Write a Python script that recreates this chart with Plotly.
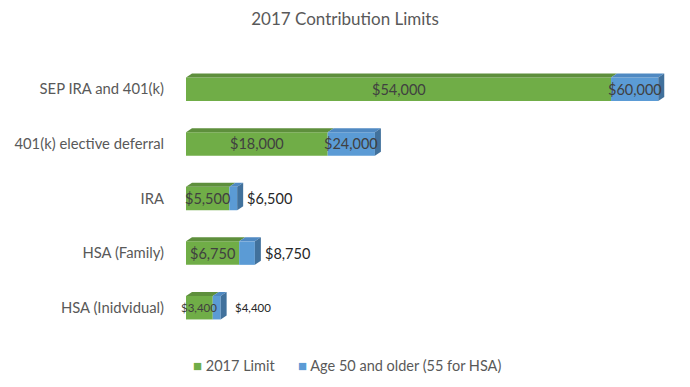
import plotly.graph_objects as go

categories = ["SEP IRA and 401(k)", "401(k) elective deferral", "IRA", "HSA (Family)", "HSA (Inidvidual)"]
limit_2017 = [54000, 18000, 5500, 6750, 3400]
catch_up = [6000, 6000, 1000, 2000, 1000]
limit_labels = ["$54,000", "$18,000", "$5,500", "$6,750", "$3,400"]
total_labels = ["$60,000", "$24,000", "$6,500", "$8,750", "$4,400"]
small_label = [False, False, False, False, True]
series_names = ["2017 Limit", "Age 50 and older (55 for HSA)"]

GREEN, GREEN_TOP = "#70AD47", "#5E8F3C"
BLUE, BLUE_TOP, BLUE_SIDE = "#5B9BD5", "#4F89C2", "#41719C"
FONT = "Lato, Open Sans, sans-serif"

W, H = 690, 387
ML, MR, MT, MB = 186, 16, 62, 52
XMAX = 62000
BAR_W = 0.43
px_per_x = (W - ML - MR) / XMAX
px_per_y = (H - MT - MB) / len(categories)
DX = 6 / px_per_x
DY = 4 / px_per_y

ypos = list(range(len(categories)))
fig = go.Figure()

fig.add_trace(go.Bar(y=ypos, x=limit_2017, orientation="h", width=BAR_W, marker=dict(color=GREEN, line=dict(width=0)),
                     name=series_names[0], hoverinfo="skip", showlegend=False))
fig.add_trace(go.Bar(y=ypos, x=catch_up, base=limit_2017, orientation="h", width=BAR_W,
                     marker=dict(color=BLUE, line=dict(width=0)), name=series_names[1], hoverinfo="skip",
                     showlegend=False))

# 3D faces
for i, y in enumerate(ypos):
    top = y - BAR_W / 2
    bot = y + BAR_W / 2
    segs = [(0, limit_2017[i], GREEN_TOP), (limit_2017[i], limit_2017[i] + catch_up[i], BLUE_TOP)]
    for b0, b1, col in segs:
        fig.add_trace(go.Scatter(x=[b0, b1, b1 + DX, b0 + DX, b0], y=[top, top, top - DY, top - DY, top],
                                 fill="toself", fillcolor=col, line=dict(width=0), mode="lines",
                                 showlegend=False, hoverinfo="skip"))
    end = limit_2017[i] + catch_up[i]
    fig.add_trace(go.Scatter(x=[end, end + DX, end + DX, end, end], y=[top, top - DY, bot - DY, bot, top],
                             fill="toself", fillcolor=BLUE_SIDE, line=dict(width=0), mode="lines",
                             showlegend=False, hoverinfo="skip"))

# labels
for i, y in enumerate(ypos):
    fs = 11.5 if small_label[i] else 14.5
    fig.add_annotation(x=limit_2017[i] / 2, y=y, text=limit_labels[i], showarrow=False,
                       font=dict(family=FONT, size=fs, color="#404040"), xanchor="center", yanchor="middle")
    end = limit_2017[i] + catch_up[i]
    blue_px = catch_up[i] * px_per_x
    if blue_px > 30:
        fig.add_annotation(x=limit_2017[i] + catch_up[i] / 2, y=y, text=total_labels[i], showarrow=False,
                           font=dict(family=FONT, size=fs, color="#404040"), xanchor="center", yanchor="middle")
    else:
        fig.add_annotation(x=end + DX, y=y, text=total_labels[i], showarrow=False, xshift=2 if not small_label[i] else 6,
                           font=dict(family=FONT, size=fs, color="#262626"), xanchor="left", yanchor="middle")

# legend (drawn as text with coloured squares)
legend_colors = [GREEN, BLUE]
legend_x = [191, 296]
for name, col, lx in zip(series_names, legend_colors, legend_x):
    fig.add_annotation(xref="paper", yref="paper", x=(lx - ML) / (W - ML - MR), y=-(365 - (H - MB)) / (H - MT - MB),
                       text=f"<span style='color:{col};font-size:15px'>■</span> {name}", showarrow=False,
                       xanchor="left", yanchor="middle", font=dict(family=FONT, size=14.5, color="#595959"))

fig.update_layout(
    width=W, height=H, barmode="overlay",
    margin=dict(l=ML, r=MR, t=MT, b=MB),
    paper_bgcolor="white", plot_bgcolor="white",
    title=dict(text="2017 Contribution Limits", x=0.5, xanchor="center", xref="container", y=1 - 19 / H, yanchor="middle",
               font=dict(family=FONT, size=17, color="#595959")),
    xaxis=dict(range=[0, XMAX], visible=False, showgrid=False, zeroline=False),
    yaxis=dict(tickvals=ypos, ticktext=categories, range=[len(categories) - 0.5, -0.5], showgrid=False,
               zeroline=False, showline=False, ticks="", ticklabelstandoff=21, automargin=False,
               tickfont=dict(family=FONT, size=14.8, color="#595959")),
    showlegend=False,
)

fig.write_html("out.html", post_script="document.body.style.margin='0';", config={"displayModeBar": False})
